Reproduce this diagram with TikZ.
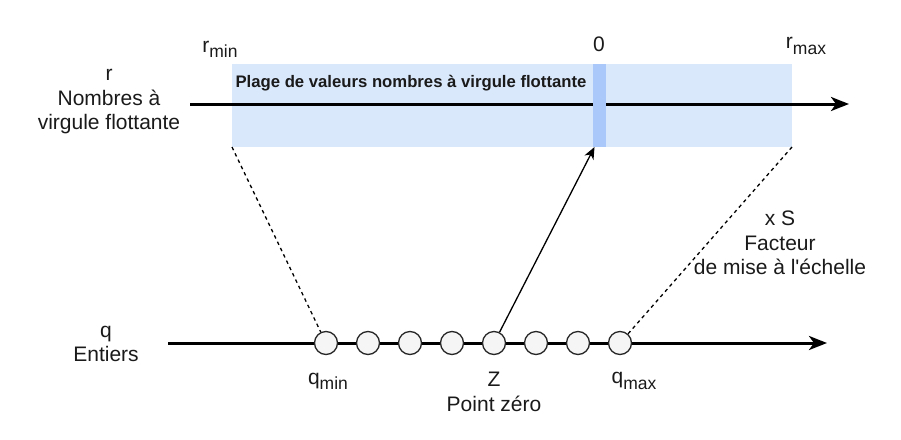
\documentclass[tikz,border=0pt]{standalone}
\usepackage{fontspec}
\setmainfont{Liberation Sans}[Ligatures=TeXOff]
\usetikzlibrary{arrows.meta}
\definecolor{bandblue}{HTML}{DAE8FC}
\definecolor{zeroblue}{HTML}{AAC8FA}
\definecolor{circfill}{HTML}{F5F5F5}
\definecolor{txt}{HTML}{1A1A1A}
\newcommand\lowsub[1]{\raisebox{-0.25em}{\fontsize{17.5}{17.5}\selectfont #1}}
\begin{document}
\begin{tikzpicture}[x=1pt,y=-1pt,
  lbl/.style={text=txt, font=\fontsize{21}{24.5}\selectfont, align=center, inner sep=0pt},
  axisline/.style={line width=3pt, -{Stealth[length=18pt,width=14pt,inset=5pt]}},
  tickcirc/.style={circle, draw=black!85, fill=circfill, line width=1.3pt, minimum size=23pt, inner sep=0pt},
  guide/.style={line width=1.3pt, dash pattern=on 3.5pt off 3.5pt},
  ]
\useasboundingbox (0,0) rectangle (901,439);
% band
\node[fill=bandblue, minimum width=560pt, minimum height=83pt, inner sep=0pt, outer sep=0pt, anchor=north west] (band) at (232,64) {};
\node[text=txt, font=\bfseries\fontsize{16.7}{19}\selectfont, inner sep=0pt] (plage) at (411,83) {Plage de valeurs nombres à virgule flottante};
% top axis
\coordinate (rstart) at (190,104);
\coordinate (rend) at (849,104);
\draw[axisline] (rstart) -- (rend);
\node[fill=zeroblue, minimum width=13pt, minimum height=83pt, inner sep=0pt, outer sep=0pt, anchor=north west] (zerobar) at (593,64) {};
% bottom axis
\coordinate (qstart) at (168,343);
\coordinate (qend) at (827,343);
\draw[axisline] (qstart) -- (qend);
\foreach \i in {1,...,8} {
  \node[tickcirc] (c\i) at ({326+42*(\i-1)},343) {};
}
% connectors
\draw[guide] (band.south west) -- (c1);
\draw[guide] (band.south east) -- (c8);
\draw[line width=1.3pt, -{Stealth[length=12pt,width=10pt,inset=3.5pt]}] (c5) -- ([xshift=-5pt]zerobar.south);
% labels
\node[lbl] (rlabel) at (109,102) {r\\Nombres à\\virgule flottante};
\node[lbl] (qlabel) at (106,344) {q\\Entiers};
\node[lbl] (slabel) at (780,243) {x S\\Facteur\\de mise à l'échelle};
\node[lbl] (zlabel) at (494,392) {Z\\Point zéro};
\node[lbl] (rmin) at (220,49) {r\lowsub{min}};
\node[lbl] (rmax) at (806,46) {r\lowsub{max}};
\node[lbl] (zero) at (599,44) {0};
\node[lbl] (qmin) at (328,381) {q\lowsub{min}};
\node[lbl] (qmax) at (634,381) {q\lowsub{max}};
\end{tikzpicture}
\end{document}
